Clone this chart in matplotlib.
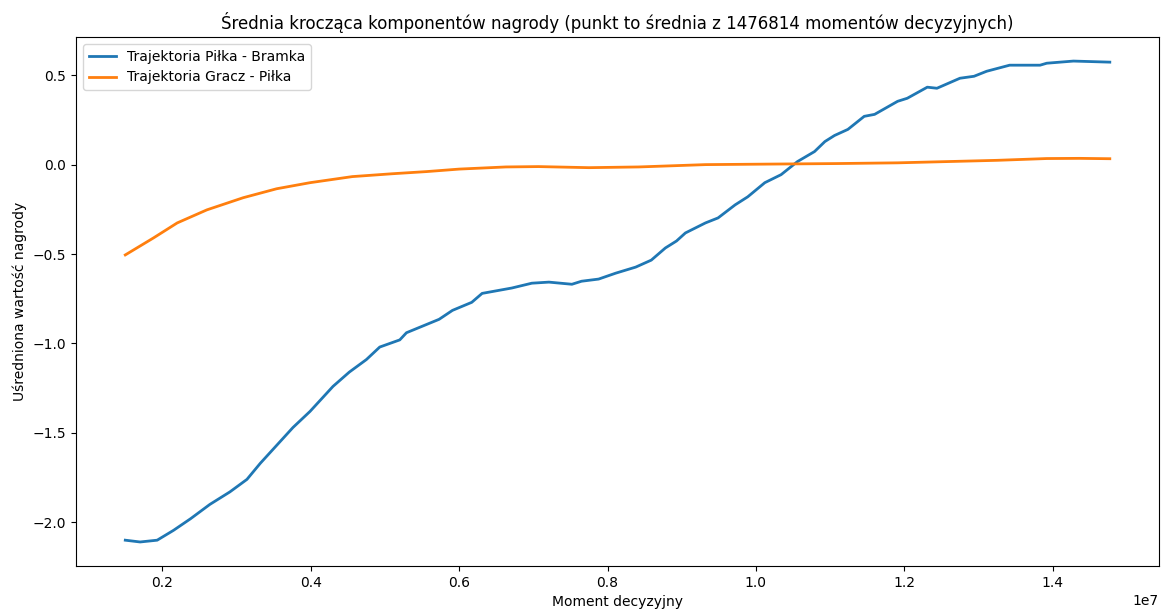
import numpy as np
import matplotlib.pyplot as plt

# moment decyzyjny (w milionach) i srednie wartosci
x_pilka_bramka = [1.50, 1.70, 1.93, 2.15, 2.38, 2.64, 2.91, 3.14, 3.32, 3.54,
                  3.76, 3.99, 4.30, 4.52, 4.75, 4.93, 5.20, 5.29, 5.73, 5.91,
                  6.17, 6.31, 6.71, 6.98, 7.21, 7.52, 7.65, 7.88, 8.11, 8.38,
                  8.59, 8.78, 8.93, 9.05, 9.32, 9.49, 9.72, 9.89, 10.12, 10.34,
                  10.56, 10.79, 10.93, 11.06, 11.24, 11.46, 11.60, 11.91, 12.04, 12.31,
                  12.44, 12.75, 12.94, 13.11, 13.42, 13.83, 13.92, 14.28, 14.77]
y_pilka_bramka = [-2.10, -2.11, -2.10, -2.045, -1.98, -1.90, -1.83, -1.76, -1.67, -1.57,
                  -1.47, -1.38, -1.24, -1.16, -1.09, -1.02, -0.98, -0.94, -0.865, -0.815,
                  -0.77, -0.72, -0.69, -0.663, -0.657, -0.669, -0.652, -0.64, -0.607, -0.573,
                  -0.534, -0.466, -0.427, -0.382, -0.326, -0.298, -0.225, -0.18, -0.101, -0.056,
                  0.017, 0.073, 0.129, 0.163, 0.197, 0.27, 0.281, 0.354, 0.371, 0.433,
                  0.427, 0.483, 0.494, 0.522, 0.556, 0.556, 0.567, 0.579, 0.573]

x_gracz_pilka = [1.50, 1.88, 2.20, 2.60, 3.09, 3.54, 3.99, 4.56, 5.10, 5.56,
                 6.00, 6.63, 7.07, 7.75, 8.42, 9.32, 10.20, 11.10, 11.91, 13.25,
                 13.92, 14.36, 14.77]
y_gracz_pilka = [-0.505, -0.41, -0.326, -0.253, -0.185, -0.135, -0.101, -0.067, -0.051, -0.039,
                 -0.025, -0.013, -0.011, -0.017, -0.013, 0.0, 0.003, 0.006, 0.01, 0.024,
                 0.034, 0.035, 0.033]

x1 = np.array(x_pilka_bramka) * 1e6
x2 = np.array(x_gracz_pilka) * 1e6

fig = plt.figure(figsize=(11.61, 6.1), dpi=100)
plt.plot(x1, y_pilka_bramka, color='#1f77b4', lw=2, label='Trajektoria Piłka - Bramka')
plt.plot(x2, y_gracz_pilka, color='#ff7f0e', lw=2, label='Trajektoria Gracz - Piłka')

plt.title('Średnia krocząca komponentów nagrody (punkt to średnia z 1476814 momentów decyzyjnych)')
plt.xlabel('Moment decyzyjny')
plt.ylabel('Uśredniona wartość nagrody')
plt.legend(loc='upper left')
plt.subplots_adjust(left=0.0655, right=0.9983, top=0.9393, bottom=0.0721)
plt.savefig('out.png', dpi=100)
